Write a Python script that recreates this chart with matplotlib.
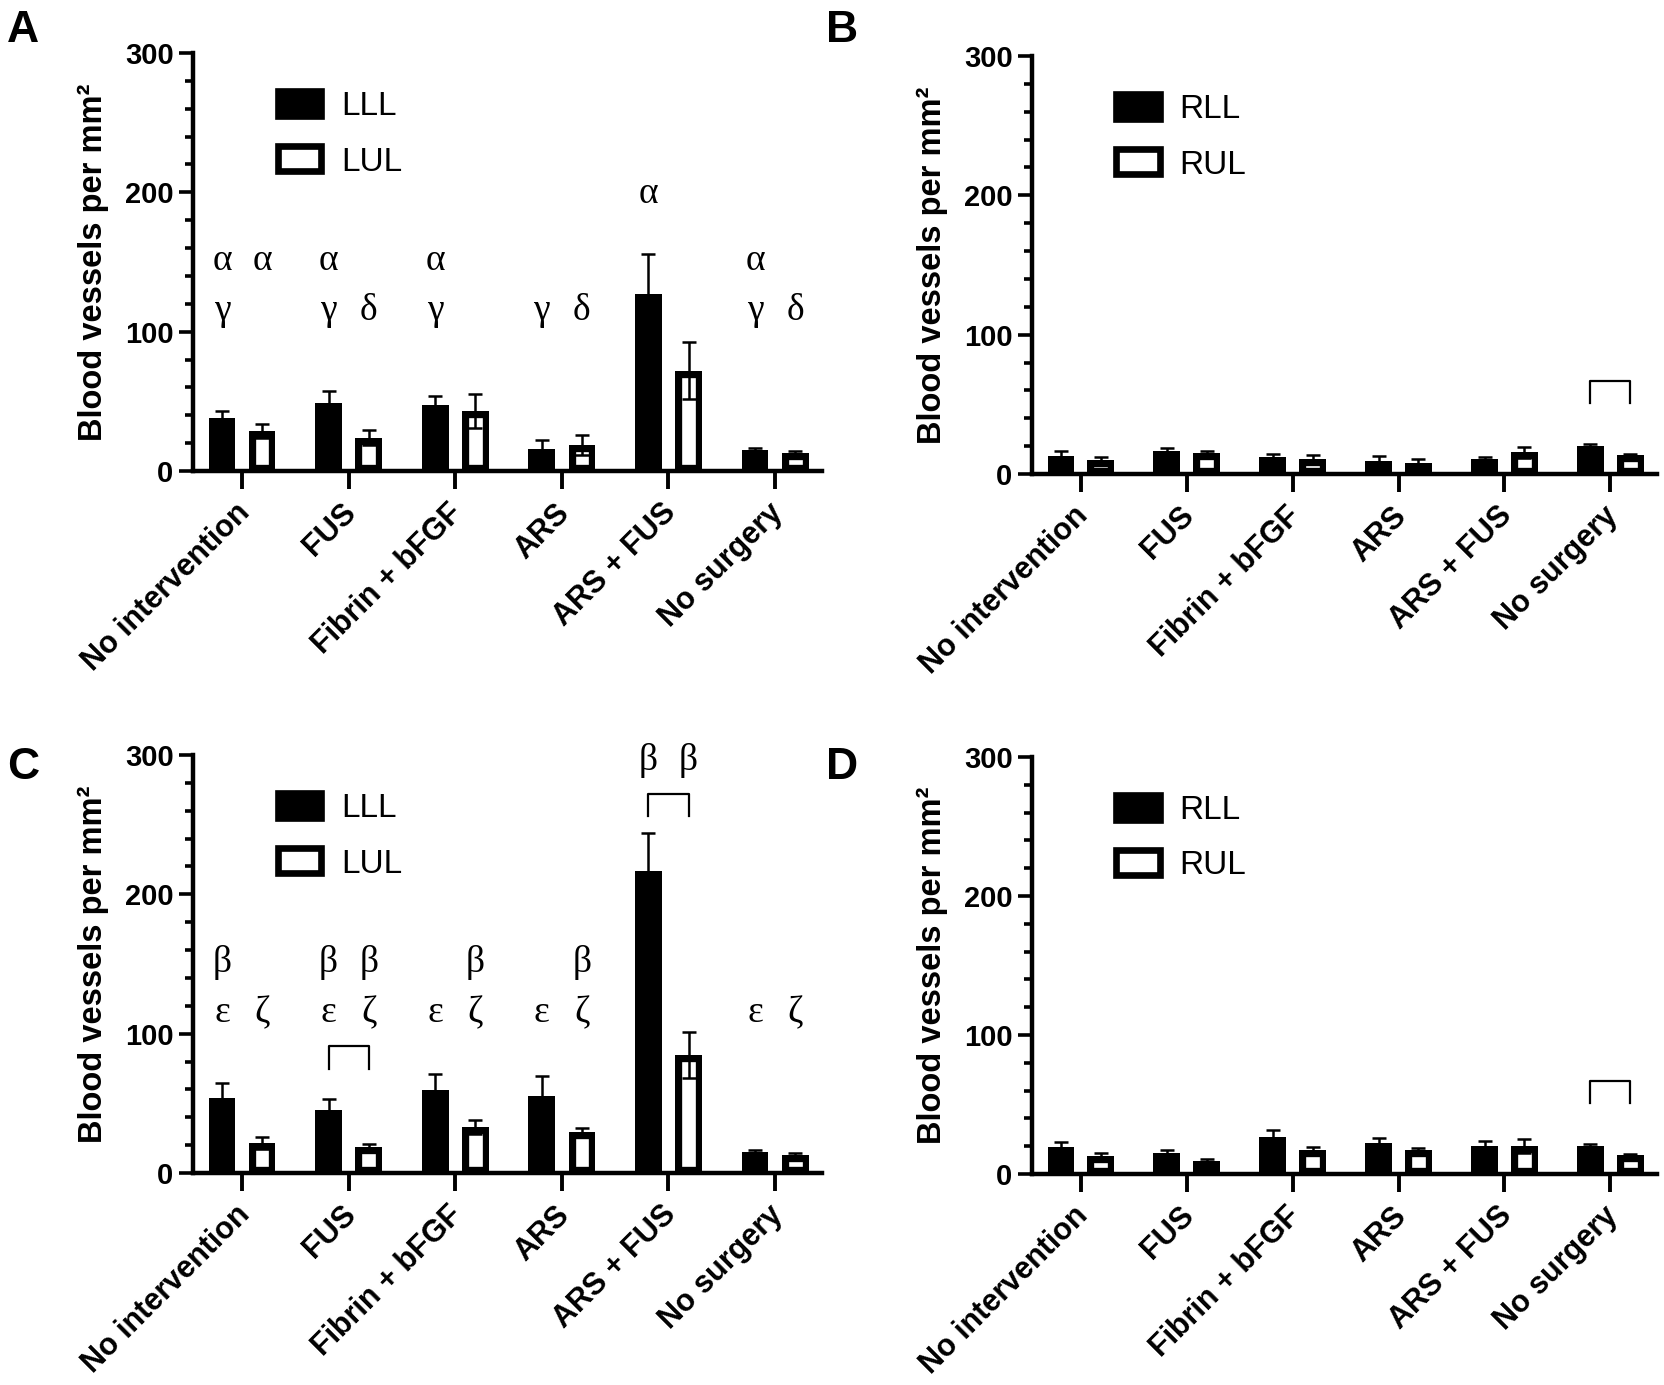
import numpy as np
import matplotlib
matplotlib.use('Agg')
import matplotlib.pyplot as plt
import matplotlib.transforms as mtransforms
from matplotlib.patches import Patch
from matplotlib.ticker import MultipleLocator

plt.rcParams['font.family'] = ['Liberation Sans', 'DejaVu Sans']

groups = ['No intervention', 'FUS', 'Fibrin + bFGF', 'ARS', 'ARS + FUS', 'No surgery']

# panel A: left lung, lower / upper lobe
a_lll = [38, 49, 47.5, 16, 127, 15]
a_lll_err = [5, 8.5, 6.5, 6.5, 29, 1.5]
a_lul = [28.5, 24, 43, 18.5, 72, 13]
a_lul_err = [5, 5.5, 12, 7, 20.5, 1.5]

# panel B: right lung
b_rll = [13, 16.5, 12.5, 9, 10.5, 20]
b_rll_err = [3.5, 2, 1.5, 4, 2, 1.5]
b_rul = [10, 15, 11, 8, 15.5, 13.5]
b_rul_err = [2.5, 1.5, 2.5, 2.5, 4, 1]

# panel C: left lung
c_lll = [53.5, 45.5, 59.5, 55, 217, 15]
c_lll_err = [11, 7.5, 11.5, 14.5, 27, 1.5]
c_lul = [21.5, 19, 33, 29.5, 84.5, 13]
c_lul_err = [4.5, 1.5, 5, 3, 16.5, 1.5]

# panel D: right lung
d_rll = [19.5, 15, 26.5, 22.5, 20.5, 20]
d_rll_err = [3.5, 2.5, 5, 3.5, 3.5, 1.5]
d_rul = [13, 9.5, 17.5, 17, 20, 13.5]
d_rul_err = [2, 1, 2, 2, 5, 1]

# significance letters per bar (lower lobe, upper lobe)
a_row1 = [['α', 'α'], ['α', ''], ['α', ''], ['', ''], ['', ''], ['α', '']]
a_row2 = [['γ', ''], ['γ', 'δ'], ['γ', ''], ['γ', 'δ'], ['', ''], ['γ', 'δ']]
a_peak = [['', ''], ['', ''], ['', ''], ['', ''], ['α', ''], ['', '']]
c_row1 = [['β', ''], ['β', 'β'], ['', 'β'], ['', 'β'], ['', ''], ['', '']]
c_row2 = [['ε', 'ζ'], ['ε', 'ζ'], ['ε', 'ζ'], ['ε', 'ζ'], ['', ''], ['ε', 'ζ']]
c_peak = [['', ''], ['', ''], ['', ''], ['', ''], ['β', 'β'], ['', '']]

# brackets between the two lobes: (group, top, leg bottom)
b_brackets = [(5, 67, 51)]
c_brackets = [(1, 91.5, 75), (4, 272, 256)]
d_brackets = [(5, 67, 51)]

W, H = 1665, 1385
fig = plt.figure(figsize=(W / 100, H / 100), dpi=100)

OFF = 0.188
BW = 0.251
ROW1, ROW2 = 144.5, 108.5


def add_axes_px(x0, x1, ytop, ybot):
    return fig.add_axes([x0 / W, 1 - ybot / H, (x1 - x0) / W, (ybot - ytop) / H])


def put_letters(ax, rows, yv):
    for i, pair in enumerate(rows):
        for j, s in enumerate(pair):
            if s:
                ax.text(i + (2 * j - 1) * OFF, yv, s, ha='center', va='baseline',
                        fontsize=27, family='Liberation Serif', clip_on=False)


def panel(ax, low, low_err, up, up_err, names, row1=None, row2=None, peak=None,
          peak_y=None, brackets=()):
    x = np.arange(len(groups))
    b1 = ax.bar(x - OFF, low, BW, color='black', edgecolor='black', lw=9.6, zorder=2)
    b2 = ax.bar(x + OFF, up, BW, color='white', edgecolor='black', lw=9.6, zorder=2)
    # keep the thick outline inside each bar
    for p in list(b1) + list(b2):
        p.set_clip_path(p)
    for xs, v, e in [(x - OFF, low, low_err), (x + OFF, up, up_err)]:
        ax.errorbar(xs, v, yerr=e, fmt='none', ecolor='black', elinewidth=1.8,
                    capsize=4.7, capthick=1.8, zorder=3)

    if row1 is not None:
        put_letters(ax, row1, ROW1)
    if row2 is not None:
        put_letters(ax, row2, ROW2)
    if peak is not None:
        put_letters(ax, peak, peak_y)
    for g, top, bot in brackets:
        ax.plot([g - OFF, g - OFF, g + OFF, g + OFF], [bot, top, top, bot],
                color='black', lw=1.6, clip_on=False, zorder=3)

    ax.set_xlim(-0.46, 5.44)
    ax.set_ylim(0, 300)
    for s in ['top', 'right']:
        ax.spines[s].set_visible(False)
    for s in ['left', 'bottom']:
        ax.spines[s].set_linewidth(3.2)
    ax.set_yticks([0, 100, 200, 300])
    ax.yaxis.set_minor_locator(MultipleLocator(20))
    ax.tick_params(axis='y', which='major', length=10, width=2.6, pad=4,
                   labelsize=21)
    ax.tick_params(axis='y', which='minor', length=5.5, width=2.6)
    for lab in ax.get_yticklabels():
        lab.set_fontweight('bold')
    ax.set_xticks(x)
    ax.set_xticklabels(groups, rotation=45, ha='right', va='center',
                       rotation_mode='anchor', fontsize=22, fontweight='bold')
    ax.tick_params(axis='x', length=13, width=2.8, pad=14)
    shift = mtransforms.ScaledTranslation(0.03, 0, fig.dpi_scale_trans)
    for lab in ax.get_xticklabels():
        lab.set_transform(lab.get_transform() + shift)

    ax.set_ylabel('Blood vessels per mm²', fontsize=23.5, fontweight='bold')
    ax.yaxis.set_label_coords(-0.134, 0.5)

    handles = [Patch(facecolor='black', edgecolor='black', lw=4.8, label=names[0]),
               Patch(facecolor='white', edgecolor='black', lw=4.8, label=names[1])]
    ax.legend(handles=handles, loc='upper left', bbox_to_anchor=(0.135, 0.91),
              frameon=False, fontsize=24, handlelength=1.3, handleheight=0.78,
              handletextpad=0.6, labelspacing=0.74, borderpad=0, borderaxespad=0)


axA = add_axes_px(193, 822, 53, 471)
axB = add_axes_px(1032, 1657, 56, 474)
axC = add_axes_px(193, 822, 755, 1173)
axD = add_axes_px(1032, 1657, 757, 1174)

panel(axA, a_lll, a_lll_err, a_lul, a_lul_err, ['LLL', 'LUL'],
      row1=a_row1, row2=a_row2, peak=a_peak, peak_y=192)
panel(axB, b_rll, b_rll_err, b_rul, b_rul_err, ['RLL', 'RUL'], brackets=b_brackets)
panel(axC, c_lll, c_lll_err, c_lul, c_lul_err, ['LLL', 'LUL'],
      row1=c_row1, row2=c_row2, peak=c_peak, peak_y=289, brackets=c_brackets)
panel(axD, d_rll, d_rll_err, d_rul, d_rul_err, ['RLL', 'RUL'], brackets=d_brackets)

for lbl, px, py in [('A', 7, 42.5), ('B', 826, 42.5), ('C', 7, 779), ('D', 826, 779)]:
    fig.text(px / W, 1 - py / H, lbl, fontsize=32, fontweight='bold', va='baseline')

fig.savefig('out.png', dpi=100)
